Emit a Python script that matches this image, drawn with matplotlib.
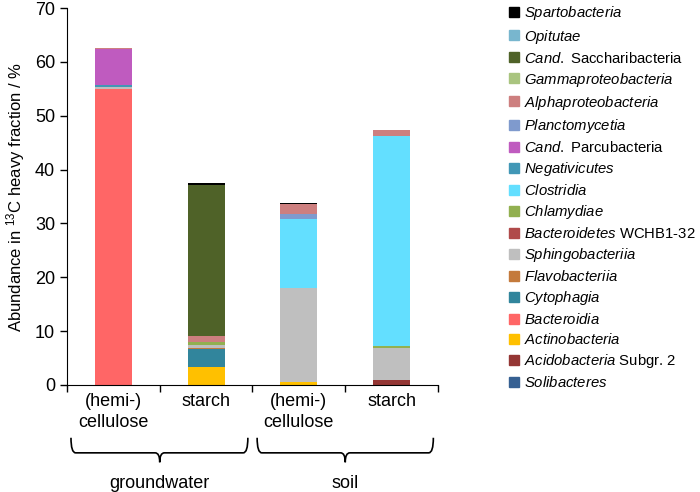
import numpy as np
import matplotlib
matplotlib.use("Agg")
import matplotlib.pyplot as plt
from matplotlib.lines import Line2D
from matplotlib.path import Path
from matplotlib.patches import PathPatch
from matplotlib.transforms import blended_transform_factory

plt.rcParams['font.family'] = ['Liberation Sans', 'DejaVu Sans']
plt.rcParams['mathtext.fontset'] = 'custom'
plt.rcParams['mathtext.rm'] = 'Liberation Sans'
plt.rcParams['mathtext.it'] = 'Liberation Sans:italic'

# taxa, bottom of stack first
taxa = [r'$\mathit{Solibacteres}$',
        r'$\mathit{Acidobacteria}$ Subgr. 2',
        r'$\mathit{Actinobacteria}$',
        r'$\mathit{Bacteroidia}$',
        r'$\mathit{Cytophagia}$',
        r'$\mathit{Flavobacteriia}$',
        r'$\mathit{Sphingobacteriia}$',
        r'$\mathit{Bacteroidetes}$ WCHB1-32',
        r'$\mathit{Chlamydiae}$',
        r'$\mathit{Clostridia}$',
        r'$\mathit{Negativicutes}$',
        r'$\mathit{Cand.}$ Parcubacteria',
        r'$\mathit{Planctomycetia}$',
        r'$\mathit{Alphaproteobacteria}$',
        r'$\mathit{Gammaproteobacteria}$',
        r'$\mathit{Cand.}$ Saccharibacteria',
        r'$\mathit{Opitutae}$',
        r'$\mathit{Spartobacteria}$']
colors = ['#366092', '#943634', '#FFC000', '#FF6666', '#31859C', '#C47A3C',
          '#BFBFBF', '#B04A4A', '#92B050', '#63DFFF', '#4197B6', '#BF5BBF',
          '#7F9ACD', '#CD7F7F', '#A9C47F', '#4F6228', '#78B6CE', '#000000']

categories = ['(hemi-)\ncellulose', 'starch', '(hemi-)\ncellulose', 'starch']
groups = ['groundwater', 'soil']

# abundance (%) per taxon, same order as taxa
gw_cellulose   = [0, 0, 0, 55.0, 0, 0, 0.4, 0, 0, 0, 0.3, 6.6, 0, 0.2, 0, 0.1, 0, 0]
gw_starch      = [0, 0, 3.4, 0, 3.3, 0.2, 0.6, 0, 0.5, 0, 0, 0, 0, 1.1, 0, 28.0, 0, 0.5]
soil_cellulose = [0, 0, 0.5, 0, 0, 0, 17.5, 0, 0, 12.9, 0, 0, 0.9, 1.8, 0, 0, 0, 0.15]
soil_starch    = [0, 0.9, 0, 0, 0, 0, 6.0, 0, 0.3, 39.0, 0, 0, 0, 1.2, 0, 0, 0, 0]

data = np.array([gw_cellulose, gw_starch, soil_cellulose, soil_starch]).T
x = np.arange(len(categories))

fig = plt.figure(figsize=(7, 4.92), dpi=100)
ax = fig.add_axes([0.0957, 0.2175, 0.53, 0.7662])

bottom = np.zeros(len(categories))
for vals, c in zip(data, colors):
    ax.bar(x, vals, 0.4, bottom=bottom, color=c, linewidth=0)
    bottom += vals

ax.set_xlim(-0.5, 3.5)
ax.set_ylim(0, 70)
ax.set_yticks(range(0, 71, 10))
ax.tick_params(axis='y', labelsize=13, length=5, width=1)
ax.set_xticks(np.arange(-0.5, 3.6, 1))
ax.set_xticklabels([])
ax.tick_params(axis='x', which='major', length=5, width=1)
ax.set_xticks(x, minor=True)
ax.set_xticklabels(categories, minor=True, fontsize=13, va='top', linespacing=1.3)
ax.tick_params(axis='x', which='minor', length=0, pad=6)
for s in ['top', 'right']:
    ax.spines[s].set_visible(False)
ax.set_ylabel('Abundance in $^{13}$C heavy fraction / %', fontsize=12, labelpad=6)


def brace(x0, x1, xc, ytop, ymid, ytip, r=0.05):
    verts = [(x0, ytop), (x0, ymid), (x0 + r, ymid),
             (xc - r, ymid), (xc, ymid), (xc, ytip),
             (xc, ymid), (xc + r, ymid),
             (x1 - r, ymid), (x1, ymid), (x1, ytop)]
    codes = [Path.MOVETO, Path.CURVE3, Path.CURVE3,
             Path.LINETO, Path.CURVE3, Path.CURVE3,
             Path.CURVE3, Path.CURVE3,
             Path.LINETO, Path.CURVE3, Path.CURVE3]
    tr = blended_transform_factory(ax.transData, ax.transAxes)
    ax.add_patch(PathPatch(Path(verts, codes), fill=False, lw=1.2,
                           ec='black', transform=tr, clip_on=False))


tr = blended_transform_factory(ax.transData, ax.transAxes)
brace(-0.457, 1.45, 0.5, -0.14, -0.18, -0.205)
brace(1.55, 3.45, 2.5, -0.14, -0.18, -0.205)
ax.text(0.5, -0.262, groups[0], transform=tr, ha='center', va='center', fontsize=13)
ax.text(2.5, -0.262, groups[1], transform=tr, ha='center', va='center', fontsize=13)

handles = [Line2D([], [], marker='s', ls='', color=c, markersize=6.5)
           for c in colors][::-1]
fig.legend(handles, taxa[::-1], loc='upper left', bbox_to_anchor=(0.717, 1.003),
           frameon=False, fontsize=10.7, handlelength=0.8, handletextpad=0.3,
           labelspacing=0.34, borderaxespad=0)

fig.savefig('out.png', dpi=100)
